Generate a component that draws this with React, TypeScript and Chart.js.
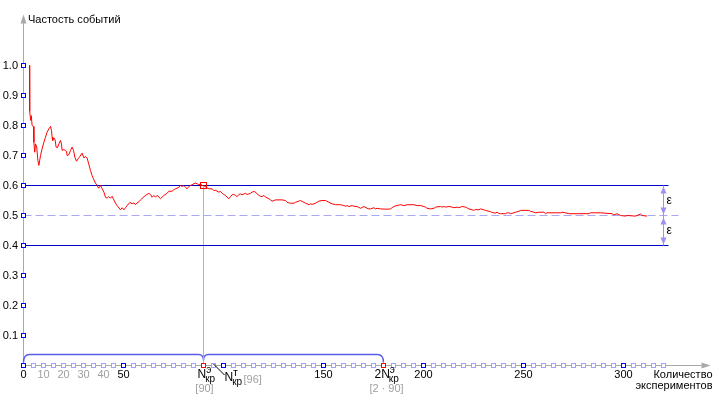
import React, { useEffect, useRef } from "react";
import { Chart, registerables } from "chart.js";

Chart.register(...registerables);

// ---- data ----
const trialCounts: number[] = [
  3.0, 3.1, 3.6, 3.9, 4.3, 5.0, 5.2, 5.6, 6.0, 6.6, 7.2, 7.7, 8.5, 9.3, 10.2, 11.0, 11.8, 12.7, 13.5, 14.0,
  14.3, 14.6, 15.2, 15.8, 16.3, 17.0, 17.7, 18.5, 19.0, 19.3, 20.2, 20.8, 21.5, 21.8, 22.7, 23.5, 24.3, 25.0,
  25.7, 26.5, 27.3, 28.2, 29.3, 30.2, 31.0, 31.8, 32.6, 33.5, 34.3, 35.2, 36.0, 36.8, 37.6, 38.5, 39.3, 40.2,
  41.0, 41.8, 42.6, 43.5, 44.3, 45.2, 46.0, 46.8, 48.5, 49.3, 50.2, 51.0, 51.8, 53.2, 54.3, 55.2, 56.0, 56.8,
  57.7, 58.5, 61.0, 62.7, 63.5, 64.3, 65.2, 66.0, 66.8, 68.5, 70.2, 71.8, 72.7, 74.3, 75.2, 76.0, 77.7, 78.5,
  79.3, 80.2, 81.0, 81.8, 82.7, 83.5, 85.2, 86.0, 86.8, 87.7, 88.5, 89.3, 90.0, 91.8, 92.7, 94.3, 95.2, 96.0,
  96.8, 97.7, 98.5, 99.3, 100.2, 101.0, 101.8, 102.7, 103.5, 104.3, 105.2, 106.0, 106.8, 107.7, 108.5, 109.3,
  110.2, 111.0, 111.8, 112.7, 113.5, 114.3, 115.2, 116.0, 116.8, 117.7, 118.5, 119.3, 120.2, 121.0, 121.8,
  122.7, 123.5, 124.3, 125.2, 126.0, 129.3, 131.0, 131.8, 132.7, 133.5, 135.2, 136.0, 137.7, 138.5, 139.3,
  140.2, 141.0, 142.7, 143.5, 144.3, 146.0, 147.7, 149.3, 151.0, 152.7, 154.3, 156.0, 158.5, 160.2, 161.0,
  161.8, 162.7, 164.3, 165.2, 166.8, 168.5, 170.2, 171.8, 172.7, 173.5, 175.2, 176.0, 176.8, 178.5, 181.8,
  183.5, 184.3, 185.2, 186.0, 188.5, 190.2, 191.8, 195.2, 196.8, 198.5, 200.2, 201.0, 201.8, 203.5, 205.2,
  206.0, 208.5, 209.3, 210.2, 211.0, 212.7, 214.3, 215.2, 216.8, 217.7, 218.5, 219.3, 221.0, 222.7, 224.3,
  225.2, 226.0, 227.7, 228.5, 230.2, 231.0, 232.7, 233.5, 234.3, 236.0, 236.8, 237.7, 238.5, 241.0, 241.8,
  242.7, 243.5, 245.2, 246.0, 247.7, 248.5, 252.7, 253.5, 255.2, 256.0, 257.7, 260.2, 261.0, 261.8, 268.5,
  269.3, 271.0, 272.7, 282.7, 283.5, 288.5, 294.3, 295.2, 296.8, 298.5, 301.0, 301.8, 306.0, 306.8, 308.5,
  309.3, 311.8,
];

const eventFrequencies: number[] = [
  1.0, 0.847, 0.817, 0.833, 0.8, 0.797, 0.744, 0.711, 0.739, 0.728, 0.683, 0.667, 0.7, 0.722, 0.744, 0.761,
  0.778, 0.789, 0.797, 0.783, 0.761, 0.75, 0.759, 0.752, 0.728, 0.726, 0.739, 0.75, 0.738, 0.717, 0.72, 0.717,
  0.714, 0.7, 0.703, 0.717, 0.728, 0.717, 0.694, 0.681, 0.689, 0.697, 0.708, 0.692, 0.697, 0.692, 0.672, 0.65,
  0.633, 0.619, 0.608, 0.6, 0.591, 0.6, 0.59, 0.578, 0.561, 0.558, 0.563, 0.558, 0.564, 0.552, 0.541, 0.533,
  0.519, 0.526, 0.519, 0.526, 0.533, 0.544, 0.539, 0.542, 0.536, 0.542, 0.546, 0.552, 0.567, 0.574, 0.57,
  0.561, 0.567, 0.561, 0.567, 0.556, 0.567, 0.574, 0.581, 0.581, 0.586, 0.589, 0.594, 0.6, 0.597, 0.6, 0.594,
  0.589, 0.597, 0.6, 0.606, 0.608, 0.606, 0.602, 0.606, 0.6, 0.6, 0.592, 0.589, 0.589, 0.583, 0.584, 0.581,
  0.578, 0.58, 0.574, 0.57, 0.567, 0.561, 0.556, 0.563, 0.569, 0.57, 0.567, 0.563, 0.57, 0.572, 0.569, 0.572,
  0.574, 0.57, 0.572, 0.574, 0.578, 0.58, 0.578, 0.572, 0.567, 0.564, 0.563, 0.567, 0.561, 0.559, 0.556,
  0.552, 0.548, 0.55, 0.552, 0.552, 0.55, 0.544, 0.542, 0.541, 0.541, 0.544, 0.548, 0.55, 0.547, 0.544, 0.541,
  0.536, 0.539, 0.537, 0.541, 0.548, 0.55, 0.55, 0.544, 0.539, 0.536, 0.536, 0.533, 0.531, 0.533, 0.53, 0.533,
  0.531, 0.53, 0.524, 0.53, 0.524, 0.522, 0.522, 0.526, 0.522, 0.524, 0.522, 0.521, 0.522, 0.526, 0.53, 0.532,
  0.536, 0.533, 0.536, 0.536, 0.533, 0.533, 0.53, 0.528, 0.524, 0.522, 0.524, 0.528, 0.53, 0.528, 0.53, 0.528,
  0.53, 0.528, 0.526, 0.528, 0.526, 0.528, 0.53, 0.528, 0.522, 0.519, 0.517, 0.52, 0.519, 0.522, 0.519, 0.517,
  0.514, 0.513, 0.51, 0.508, 0.511, 0.507, 0.506, 0.506, 0.509, 0.509, 0.506, 0.509, 0.511, 0.514, 0.517,
  0.517, 0.514, 0.511, 0.509, 0.511, 0.511, 0.506, 0.509, 0.509, 0.511, 0.509, 0.506, 0.506, 0.509, 0.509,
  0.506, 0.502, 0.506, 0.5, 0.498, 0.5, 0.498, 0.5, 0.505, 0.5, 0.498,
];

const probability = 0.5;
const epsilon = 0.1;
const nCritExp = 90; // N^э_кр
const nCritTheor = 96; // N^т_кр
const yTickValues: number[] = [0.1, 0.2, 0.3, 0.4, 0.5, 0.6, 0.7, 0.8, 0.9, 1.0];
const yTickLabels: string[] = ["0.1", "0.2", "0.3", "0.4", "0.5", "0.6", "0.7", "0.8", "0.9", "1.0"];
const xMajorTicks: number[] = [0, 50, 150, 200, 250, 300];
const xMinorLabelTicks: number[] = [10, 20, 30, 40];
const xTickStep = 5;
const xTickLast = 320;
const xMax = 343.5;
const yMax = 1.1667;
const bandEnd = 322.5;
const dashEnd = 327.5;
const epsMarkerX = 320;

const FONT = '"Liberation Sans", Arial, sans-serif';

const decoPlugin = {
  id: "deco",
  beforeDatasetsDraw(chart: any) {
    const { ctx, scales } = chart;
    const X = (v: number) => scales.x.getPixelForValue(v);
    const Y = (v: number) => scales.y.getPixelForValue(v);
    const x0 = Math.floor(X(0)) + 0.5;
    const y0 = Math.floor(Y(0)) + 0.5;
    ctx.save();
    ctx.strokeStyle = "#a9a9a9";
    ctx.fillStyle = "#a9a9a9";
    ctx.lineWidth = 1;
    // y axis
    ctx.beginPath();
    ctx.moveTo(x0, y0);
    ctx.lineTo(x0, Y(yMax) + 4);
    ctx.stroke();
    ctx.beginPath();
    ctx.moveTo(x0, Y(yMax) - 1);
    ctx.lineTo(x0 - 3, Y(yMax) + 8);
    ctx.lineTo(x0 + 3, Y(yMax) + 8);
    ctx.closePath();
    ctx.fill();
    // x axis
    ctx.beginPath();
    ctx.moveTo(x0, y0);
    ctx.lineTo(X(xMax) - 4, y0);
    ctx.stroke();
    ctx.beginPath();
    ctx.moveTo(X(xMax), y0);
    ctx.lineTo(X(xMax) - 9, y0 - 3);
    ctx.lineTo(X(xMax) - 9, y0 + 3);
    ctx.closePath();
    ctx.fill();

    // brace
    const yb = Math.floor(Y(0)) - 10.5;
    ctx.strokeStyle = "#5b5bef";
    ctx.lineWidth = 1.4;
    ctx.beginPath();
    ctx.moveTo(x0, y0 - 3);
    ctx.quadraticCurveTo(x0, yb, x0 + 6, yb);
    ctx.lineTo(X(nCritExp) - 5, yb);
    ctx.quadraticCurveTo(X(nCritExp), yb, X(nCritExp), yb + 6);
    ctx.quadraticCurveTo(X(nCritExp), yb, X(nCritExp) + 5, yb);
    ctx.lineTo(X(2 * nCritExp) - 6, yb);
    ctx.quadraticCurveTo(X(2 * nCritExp), yb, X(2 * nCritExp), y0 - 3);
    ctx.stroke();
    ctx.restore();
  },
  afterDatasetsDraw(chart: any) {
    const { ctx, scales } = chart;
    const X = (v: number) => scales.x.getPixelForValue(v);
    const Y = (v: number) => scales.y.getPixelForValue(v);
    const y0 = Math.floor(Y(0));
    const x0 = Math.floor(X(0));
    ctx.save();
    ctx.lineWidth = 1;
    const sq = (px: number, py: number, color: string) => {
      const l = Math.floor(px) - 1.5;
      const t = Math.floor(py) - 1.5;
      ctx.fillStyle = "#ffffff";
      ctx.fillRect(l, t, 4, 4);
      ctx.strokeStyle = color;
      ctx.strokeRect(l, t, 4, 4);
    };
    // x tick squares
    for (let v = 0; v <= xTickLast; v += xTickStep) {
      let c = "#a0a0ff";
      if (v % 50 === 0) c = "#0000ff";
      if (v === nCritExp || v === 2 * nCritExp) c = "#ff0000";
      sq(X(v), Y(0), c);
    }
    // y tick squares
    yTickValues.forEach((v) => sq(X(0), Y(v), "#0000ff"));
    // red marker on curve
    {
      const l = Math.floor(X(nCritExp)) - 2.5;
      const t = Math.floor(Y(probability + epsilon)) - 2.5;
      ctx.strokeStyle = "#ff0000";
      ctx.strokeRect(l, t, 6, 6);
    }

    // epsilon indicator
    const ex = Math.floor(X(epsMarkerX)) + 0.5;
    ctx.strokeStyle = "#a090f0";
    ctx.fillStyle = "#a090f0";
    ctx.beginPath();
    ctx.moveTo(ex, Y(probability + epsilon));
    ctx.lineTo(ex, Y(probability - epsilon));
    ctx.stroke();
    const arrow = (py: number, dir: number) => {
      ctx.beginPath();
      ctx.moveTo(ex, py);
      ctx.lineTo(ex - 3, py + dir * 7);
      ctx.lineTo(ex + 3, py + dir * 7);
      ctx.closePath();
      ctx.fill();
    };
    arrow(Y(probability + epsilon) + 1, 1);
    arrow(Y(probability) - 1, -1);
    arrow(Y(probability) + 2, 1);
    arrow(Y(probability - epsilon) - 1, -1);

    ctx.fillStyle = "#000";
    ctx.font = `12px ${FONT}`;
    ctx.textAlign = "left";
    ctx.textBaseline = "middle";
    ctx.fillText("ε", ex + 3, Y(probability + epsilon / 2));
    ctx.fillText("ε", ex + 3, Y(probability - epsilon / 2));

    // y labels
    ctx.font = `11px ${FONT}`;
    ctx.textBaseline = "alphabetic";
    ctx.textAlign = "right";
    yTickValues.forEach((v, i) => ctx.fillText(yTickLabels[i], x0 - 5, Math.floor(Y(v)) + 4));
    // y title
    ctx.textAlign = "left";
    ctx.fillText("Частость событий", x0 + 5, Math.floor(Y(yMax)) + 8);

    // x labels
    ctx.textAlign = "center";
    xMajorTicks.forEach((v) => ctx.fillText(String(v), X(v), y0 + 13));
    ctx.fillStyle = "#a0a0a0";
    xMinorLabelTicks.forEach((v) => ctx.fillText(String(v), X(v), y0 + 13));

    // N^э_кр and friends
    const sub = (base: string, sup: string, subT: string, left: number, by: number) => {
      ctx.textAlign = "left";
      ctx.fillStyle = "#000";
      ctx.font = `12px ${FONT}`;
      ctx.fillText(base, left, by);
      const w = ctx.measureText(base).width;
      ctx.font = `10px ${FONT}`;
      ctx.fillText(sup, left + w, by - 5);
      ctx.fillText(subT, left + w - 1, by + 4);
    };
    sub("N", "э", "кр", X(nCritExp) - 6, y0 + 13);
    sub("2N", "э", "кр", X(2 * nCritExp) - 9, y0 + 13);
    sub("N", "т", "кр", X(nCritTheor) + 9, y0 + 16);

    ctx.font = `11px ${FONT}`;
    ctx.fillStyle = "#a0a0a0";
    ctx.textAlign = "center";
    ctx.fillText(`[${nCritExp}]`, X(nCritExp) + 1, y0 + 27);
    ctx.fillText(`[2 · ${nCritExp}]`, X(2 * nCritExp) + 3, y0 + 27);
    ctx.textAlign = "left";
    ctx.fillText(`[${nCritTheor}]`, X(nCritTheor) + 28, y0 + 18);

    // pointer line to N^т_кр
    ctx.strokeStyle = "#000";
    ctx.beginPath();
    ctx.moveTo(X(nCritTheor) - 2, y0 - 1);
    ctx.lineTo(X(nCritTheor) + 9, y0 + 10);
    ctx.stroke();

    // x title
    ctx.fillStyle = "#000";
    ctx.textAlign = "right";
    ctx.fillText("Количество", X(xMax) + 2, y0 + 13);
    ctx.fillText("экспериментов", X(xMax) + 2, y0 + 24);
    ctx.restore();
  },
};

export default function App() {
  const ref = useRef<HTMLCanvasElement>(null);
  useEffect(() => {
    if (!ref.current) return;
    const curve = trialCounts.map((n, i) => ({ x: n, y: eventFrequencies[i] }));
    const chart = new Chart(ref.current, {
      type: "line",
      data: {
        datasets: [
          { data: curve, borderColor: "#ff0000", borderWidth: 1, pointRadius: 0, tension: 0, clip: false } as any,
          {
            data: [{ x: 0, y: probability + epsilon }, { x: bandEnd, y: probability + epsilon }],
            borderColor: "#0000c8", borderWidth: 1, pointRadius: 0,
          },
          {
            data: [{ x: 0, y: probability - epsilon }, { x: bandEnd, y: probability - epsilon }],
            borderColor: "#0000c8", borderWidth: 1, pointRadius: 0,
          },
          {
            data: [{ x: 0, y: probability }, { x: dashEnd, y: probability }],
            borderColor: "#a8a8f4", borderWidth: 1, borderDash: [8, 4], pointRadius: 0,
          },
          {
            data: [{ x: nCritExp, y: 0 }, { x: nCritExp, y: probability + epsilon }],
            borderColor: "#b0b0e0", borderWidth: 1, pointRadius: 0,
          },
        ],
      },
      options: {
        animation: false,
        responsive: false,
        parsing: false as any,
        layout: { padding: { left: 23.5, right: 13.5, top: 15.5, bottom: 37.5 } },
        plugins: { legend: { display: false }, tooltip: { enabled: false } },
        scales: {
          x: { type: "linear", min: 0, max: xMax, display: false },
          y: { type: "linear", min: 0, max: yMax, display: false },
        },
      },
      plugins: [decoPlugin],
    });
    return () => chart.destroy();
  }, []);
  return (
    <div style={{ position: "fixed", left: 0, top: 0, width: 724, height: 403, background: "#fff" }}>
      <canvas ref={ref} width={724} height={403} style={{ width: 724, height: 403 }} />
    </div>
  );
}
